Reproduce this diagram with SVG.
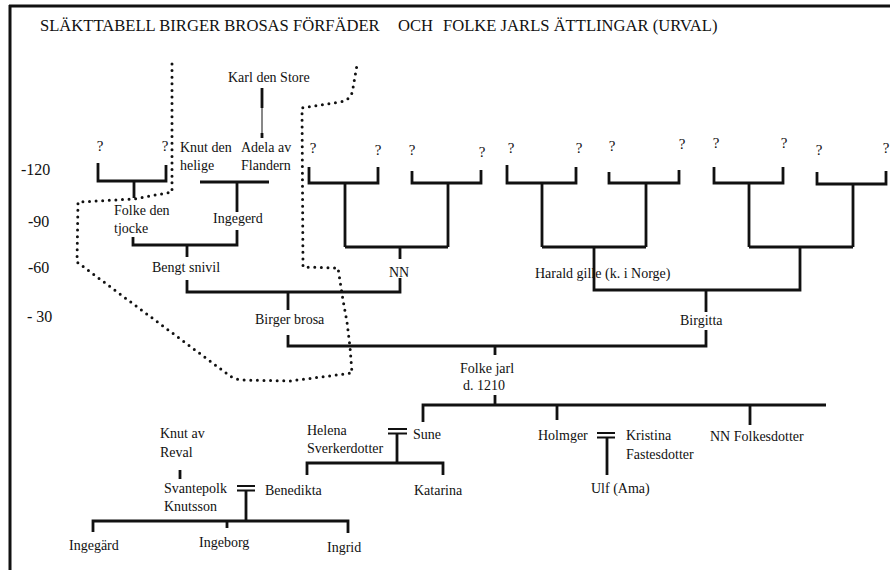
<svg xmlns="http://www.w3.org/2000/svg" width="890" height="570" viewBox="0 0 890 570">
<style>
text{font-family:"Liberation Serif","Times New Roman",serif;fill:#111;}
.t{font-size:16.6px;}
.ax{font-size:16px;}
.n{font-size:14px;}
.q{font-size:15px;text-anchor:middle;}
.ln{fill:none;stroke:#111;stroke-width:2.8;stroke-linejoin:miter;stroke-linecap:butt;}
.eq{fill:none;stroke:#111;stroke-width:2.2;}
.dot{fill:none;stroke:#111;stroke-width:3;stroke-linecap:round;stroke-dasharray:0 6.6;}
.thin{fill:none;stroke:#111;stroke-width:1;}
</style>
<rect x="0" y="0" width="890" height="570" fill="#fff"/>
<g id="frame">
<path d="M9,6 H890" stroke="#111" stroke-width="3"/>
<path d="M10,5 V570" stroke="#111" stroke-width="3"/>
</g>
<g id="title">
<text class="t" x="40" y="31">SLÄKTTABELL BIRGER BROSAS FÖRFÄDER</text>
<text class="t" x="398" y="31">OCH</text>
<text class="t" x="443" y="31">FOLKE JARLS ÄTTLINGAR (URVAL)</text>
</g>
<g id="axis">
<text class="ax" x="21" y="175">-120</text>
<text class="ax" x="28" y="227">-90</text>
<text class="ax" x="28" y="273">-60</text>
<text class="ax" x="27" y="322">- 30</text>
</g>
<g id="boundary">
<path class="dot" d="M172,64 L172,192 L134,199 L78,202 L77,262 L230,376 Q236,380 245,380 L290,381 L352,373 L350,347 L347,322 L343,300 L338,268 L303,267 L302,108 L340,102 Q352,100 353,88 L357,65"/>
</g>
<g id="connectors">
<path class="ln" d="M98,163 V181 H166 V165 M134,181 V198"/>
<path class="ln" d="M200,182 H269 M237,182 V212"/>
<path class="ln" d="M262,88 V108 M262,133 V138"/>
<path class="thin" d="M262,108 V133"/>
<path class="ln" d="M133,237 V245 H237 V230 M187,245 V257"/>
<path class="ln" d="M187,280 V292 H400 V278 M400,247 V259 M288,292 V310"/>
<path class="ln" d="M309,167 V183 H378 V167 M345,183 V247"/>
<path class="ln" d="M412,171 V183 H481 V170 M448,183 V247"/>
<path class="ln" d="M345,247 H448"/>
<path class="ln" d="M507,165 V183 H576 V167 M542,183 V247"/>
<path class="ln" d="M609,172 V183 H679 V170 M646,183 V247"/>
<path class="ln" d="M542,247 H646 M594,247 V290 H800 V247"/>
<path class="ln" d="M714,167 V183 H783 V167 M749,183 V247"/>
<path class="ln" d="M817,172 V184 H886 V171 M853,184 V247"/>
<path class="ln" d="M749,247 H853"/>
<path class="ln" d="M706,290 V312"/>
<path class="ln" d="M288,335 V346 H706 V330 M495,346 V355"/>
<path class="ln" d="M495,395 V405 M423,422 V405 H826 M557,405 V420 M750,405 V425"/>
<path class="eq" d="M597,433 H615 M597,437.5 H615"/>
<path class="ln" d="M607,437 V475"/>
<path class="eq" d="M388,429 H407 M388,433.5 H407"/>
<path class="ln" d="M397,433 V463 M307,475 V463 H443 V475"/>
<path class="ln" d="M180,470 V479"/>
<path class="eq" d="M237,486 H255 M237,490.5 H255"/>
<path class="ln" d="M246,490 V521 M93,532 V521 H348 V533 M227,521 V528"/>
</g>
<g id="unknowns">
<text class="q" x="100" y="151">?</text>
<text class="q" x="165" y="151">?</text>
<text class="q" x="313" y="153">?</text>
<text class="q" x="378" y="155">?</text>
<text class="q" x="412" y="155">?</text>
<text class="q" x="482" y="157">?</text>
<text class="q" x="511" y="153">?</text>
<text class="q" x="579" y="153">?</text>
<text class="q" x="612" y="151">?</text>
<text class="q" x="682" y="149">?</text>
<text class="q" x="716" y="148">?</text>
<text class="q" x="784" y="148">?</text>
<text class="q" x="819" y="155">?</text>
<text class="q" x="886" y="153">?</text>
</g>
<g id="karl-den-store"><text class="n" x="228" y="82">Karl den Store</text></g>
<g id="knut-den-helige"><text class="n" x="180" y="152">Knut den</text><text class="n" x="180" y="170">helige</text></g>
<g id="adela-av-flandern"><text class="n" x="241" y="152">Adela av</text><text class="n" x="241" y="170">Flandern</text></g>
<g id="folke-den-tjocke"><text class="n" x="114" y="215">Folke den</text><text class="n" x="114" y="233">tjocke</text></g>
<g id="ingegerd"><text class="n" x="213" y="223">Ingegerd</text></g>
<g id="bengt-snivil"><text class="n" x="152" y="272">Bengt snivil</text></g>
<g id="nn"><text class="n" x="399" y="277" text-anchor="middle">NN</text></g>
<g id="harald-gille"><text class="n" x="535" y="278">Harald gille (k. i Norge)</text></g>
<g id="birger-brosa"><text class="n" x="255" y="324">Birger brosa</text></g>
<g id="birgitta"><text class="n" x="680" y="325">Birgitta</text></g>
<g id="folke-jarl"><text class="n" x="460" y="373">Folke jarl</text><text class="n" x="463" y="390">d. 1210</text></g>
<g id="helena"><text class="n" x="307" y="435">Helena</text><text class="n" x="307" y="453">Sverkerdotter</text></g>
<g id="sune"><text class="n" x="413" y="439">Sune</text></g>
<g id="holmger"><text class="n" x="538" y="440">Holmger</text></g>
<g id="kristina"><text class="n" x="626" y="440">Kristina</text><text class="n" x="626" y="459">Fastesdotter</text></g>
<g id="nn-folkesdotter"><text class="n" x="710" y="441">NN Folkesdotter</text></g>
<g id="ulf"><text class="n" x="591" y="493">Ulf (Ama)</text></g>
<g id="knut-av-reval"><text class="n" x="160" y="438">Knut av</text><text class="n" x="160" y="457">Reval</text></g>
<g id="svantepolk"><text class="n" x="164" y="493">Svantepolk</text><text class="n" x="164" y="511">Knutsson</text></g>
<g id="benedikta"><text class="n" x="265" y="495">Benedikta</text></g>
<g id="katarina"><text class="n" x="414" y="495">Katarina</text></g>
<g id="ingegard"><text class="n" x="69" y="550">Ingegärd</text></g>
<g id="ingeborg"><text class="n" x="199" y="547">Ingeborg</text></g>
<g id="ingrid"><text class="n" x="327" y="552">Ingrid</text></g>
</svg>
